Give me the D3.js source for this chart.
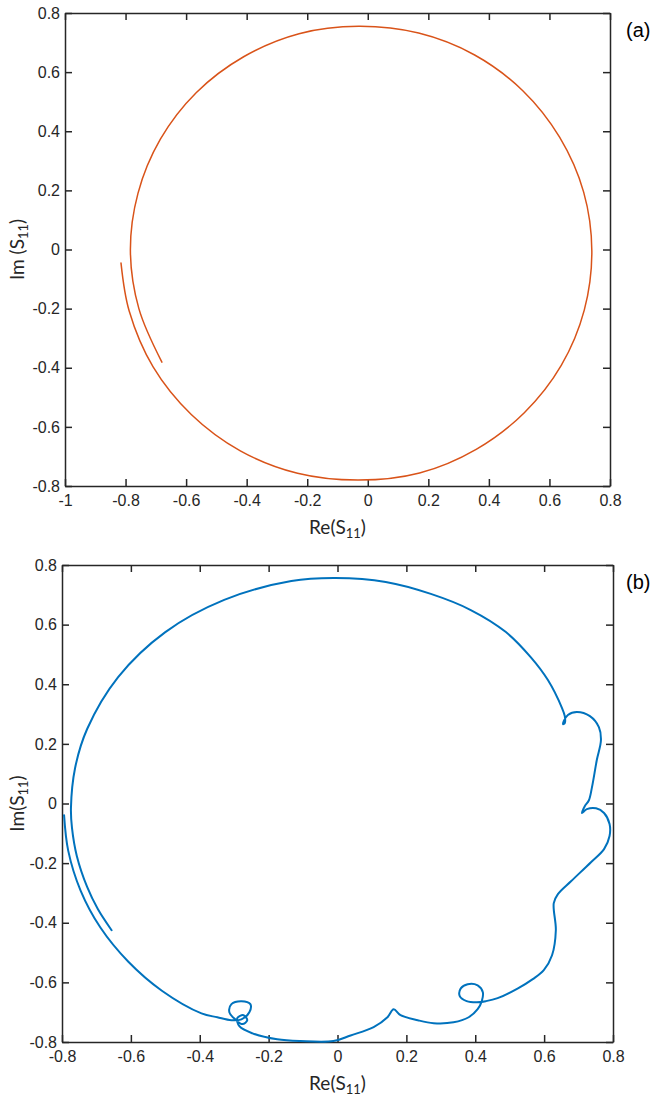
<!DOCTYPE html>
<html>
<head>
<meta charset="utf-8">
<script src="https://cdn.jsdelivr.net/npm/d3@7"></script>
<style>
  body { margin: 0; background: #fff; }
  svg { display: block; }
  .tick text { font-family: "Liberation Sans", Arial, sans-serif; font-size: 16px; fill: #262626; }
  .ax-title { font-family: Lato, "Open Sans", sans-serif; font-size: 19px; fill: #262626; }
  .panel-tag { font-family: "Liberation Sans", Arial, sans-serif; font-size: 20px; fill: #000; }
</style>
</head>
<body>
<div id="chart"></div>
<script>
// ---- data ----
// panel (a): orange spiral, Re / Im of S11
var reA = [-0.815, -0.788, -0.709, -0.583, -0.421, -0.232, -0.030, 0.171, 0.358, 0.517, 0.639, 0.715,
           0.740, 0.713, 0.634, 0.512, 0.353, 0.168, -0.030, -0.227, -0.410, -0.566, -0.685, -0.759,
           -0.784, -0.756, -0.680];
var imA = [-0.046, -0.208, -0.397, -0.558, -0.681, -0.757, -0.780, -0.756, -0.676, -0.552, -0.392, -0.205,
           -0.005, 0.194, 0.379, 0.537, 0.658, 0.732, 0.755, 0.730, 0.652, 0.531, 0.373, 0.190,
           -0.005, -0.200, -0.381];

// panel (b): blue curve with loops
var reB = [-0.794, -0.782, -0.746, -0.688, -0.608, -0.510, -0.395, -0.349,
           -0.308, -0.279, -0.256, -0.253, -0.279, -0.308, -0.314, -0.297, -0.276, -0.262, -0.273, -0.291,
           -0.285, -0.247, -0.175, -0.108, -0.012, 0.038, 0.105, 0.145, 0.163, 0.183, 0.233, 0.279,
           0.337, 0.381, 0.407, 0.419, 0.422, 0.407, 0.378, 0.358, 0.355, 0.375, 0.404, 0.431,
           0.465, 0.524, 0.567, 0.599, 0.623, 0.634, 0.628, 0.640, 0.678, 0.736, 0.774, 0.790,
           0.790, 0.774, 0.751, 0.724, 0.710, 0.718, 0.730, 0.739, 0.753, 0.765, 0.759, 0.733,
           0.695, 0.669, 0.657, 0.655, 0.660, 0.660, 0.652, 0.611, 0.561, 0.489, 0.387, 0.271,
           0.140, -0.006, -0.134, -0.329, -0.500, -0.637, -0.727, -0.762, -0.774, -0.771, -0.757, -0.727,
           -0.696, -0.656];
var imB = [-0.039, -0.158, -0.292, -0.417, -0.530, -0.628, -0.704, -0.717,
           -0.727, -0.724, -0.700, -0.673, -0.663, -0.673, -0.700, -0.724, -0.740, -0.727, -0.710, -0.720,
           -0.747, -0.771, -0.791, -0.797, -0.797, -0.778, -0.750, -0.717, -0.690, -0.710, -0.727, -0.737,
           -0.734, -0.717, -0.690, -0.663, -0.633, -0.610, -0.606, -0.620, -0.646, -0.663, -0.667, -0.663,
           -0.653, -0.620, -0.589, -0.559, -0.509, -0.425, -0.334, -0.304, -0.261, -0.197, -0.153, -0.109,
           -0.069, -0.032, -0.016, -0.019, -0.032, -0.009, 0.011, 0.055, 0.146, 0.213, 0.256, 0.293,
           0.307, 0.297, 0.276, 0.266, 0.270, 0.293, 0.320, 0.414, 0.491, 0.575, 0.649, 0.703,
           0.743, 0.756, 0.746, 0.683, 0.575, 0.424, 0.250, 0.119, -0.015, -0.082, -0.176, -0.280,
           -0.354, -0.425];

// tick labels
var xTicksA = [-1, -0.8, -0.6, -0.4, -0.2, 0, 0.2, 0.4, 0.6, 0.8];
var xTicksB = [-0.8, -0.6, -0.4, -0.2, 0, 0.2, 0.4, 0.6, 0.8];
var yTicks  = [-0.8, -0.6, -0.4, -0.2, 0, 0.2, 0.4, 0.6, 0.8];

var W = 656, H = 1097;
var svg = d3.select("#chart").append("svg")
    .attr("width", W)
    .attr("height", H);

var fmt = function(d) { return String(d); };
var axisColor = "#262626";

function drawPanel(p) {
  var x = d3.scaleLinear().domain(p.xDomain).range([p.left, p.right]);
  var y = d3.scaleLinear().domain([-0.8, 0.8]).range([p.bottom, p.top]);
  var g = svg.append("g");

  // bottom axis with labels, ticks pointing inward
  g.append("g")
    .attr("transform", "translate(0," + p.bottom + ")")
    .call(d3.axisBottom(x).tickValues(p.xTicks).tickFormat(fmt).tickSize(-7).tickSizeOuter(0).tickPadding(9));
  // top (no labels)
  g.append("g")
    .attr("transform", "translate(0," + p.top + ")")
    .call(d3.axisTop(x).tickValues(p.xTicks).tickFormat("").tickSize(-7).tickSizeOuter(0));
  // left axis with labels
  g.append("g")
    .attr("transform", "translate(" + p.left + ",0)")
    .call(d3.axisLeft(y).tickValues(yTicks).tickFormat(fmt).tickSize(-7).tickSizeOuter(0).tickPadding(5));
  // right (no labels)
  g.append("g")
    .attr("transform", "translate(" + p.right + ",0)")
    .call(d3.axisRight(y).tickValues(yTicks).tickFormat("").tickSize(-7).tickSizeOuter(0));

  g.selectAll(".domain").attr("stroke", axisColor).attr("stroke-width", 1.5);
  g.selectAll(".tick line").attr("stroke", axisColor).attr("stroke-width", 1.5);

  // the curve
  var pts = p.re.map(function(d, i) { return [d, p.im[i]]; });
  var line = d3.line()
      .x(function(d) { return x(d[0]); })
      .y(function(d) { return y(d[1]); })
      .curve(d3.curveCatmullRom.alpha(0.5));
  g.append("path")
    .datum(pts)
    .attr("d", line)
    .attr("fill", "none")
    .attr("stroke", p.color)
    .attr("stroke-width", p.lw)
    .attr("stroke-linejoin", "round")
    .attr("stroke-linecap", "round");

  // axis titles
  var xt = g.append("text").attr("class", "ax-title")
    .attr("x", (p.left + p.right) / 2)
    .attr("y", p.bottom + 48)
    .attr("text-anchor", "middle");
  xt.append("tspan").text("Re(S");
  xt.append("tspan").text("11").attr("font-size", "13px").attr("dy", "4");
  xt.append("tspan").text(")").attr("dy", "-4");

  var yt = g.append("text").attr("class", "ax-title")
    .attr("transform", "translate(24," + ((p.top + p.bottom) / 2) + ") rotate(-90)")
    .attr("text-anchor", "middle");
  yt.append("tspan").text(p.imLabel);
  yt.append("tspan").text("11").attr("font-size", "13px").attr("dy", "4");
  yt.append("tspan").text(")").attr("dy", "-4");

  g.append("text").attr("class", "panel-tag")
    .attr("x", 626)
    .attr("y", p.top + 24)
    .text(p.tag);
}

drawPanel({
  left: 65, right: 610, top: 13, bottom: 486,
  xDomain: [-1, 0.8], xTicks: xTicksA,
  re: reA, im: imA, color: "#D95319", lw: 1.5,
  imLabel: "Im (S", tag: "(a)"
});

drawPanel({
  left: 62, right: 613, top: 565, bottom: 1042,
  xDomain: [-0.8, 0.8], xTicks: xTicksB,
  re: reB, im: imB, color: "#0072BD", lw: 2,
  imLabel: "Im(S", tag: "(b)"
});
</script>
</body>
</html>
